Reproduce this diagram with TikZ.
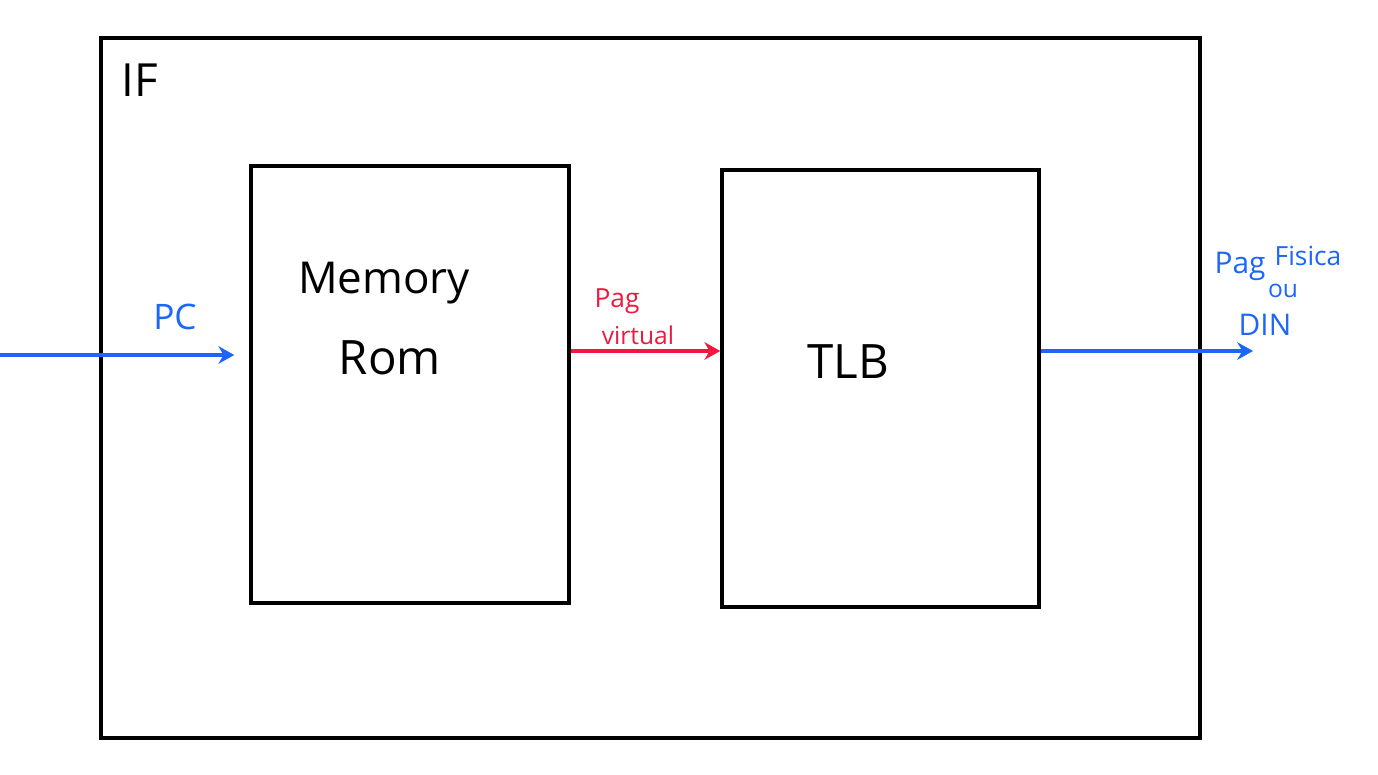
\documentclass[tikz,border=0pt]{standalone}
\usepackage{fontspec}
\setmainfont{Open Sans}
\usepackage{tikz}
\usetikzlibrary{arrows.meta}
\definecolor{penblue}{RGB}{28,102,250}
\definecolor{penred}{RGB}{240,24,64}
\tikzset{
  blok/.style={draw=black, line width=2pt, inner sep=0pt},
  pen/.style={line width=1.9pt, -{Stealth[length=9pt,width=10pt]}},
}

\begin{document}
\begin{tikzpicture}[x=0.02cm, y=-0.02cm]
        \useasboundingbox (0,0) rectangle (1378,774);
        \node[blok, minimum width=1099*0.02cm, minimum height=700*0.02cm] (ifbox) at (650.5,388) {};
        \node[blok, minimum width=318*0.02cm, minimum height=437*0.02cm] (rom) at (410,384.5) {};
        \node[blok, minimum width=317*0.02cm, minimum height=437*0.02cm] (tlb) at (880.5,388.5) {};
        \node[font=\fontsize{26}{28}\selectfont] (iflbl) at (140,80) {IF};
        \node[font=\fontsize{25}{27}\selectfont] (memlbl) at (384,283) {Memory};
        \node[font=\fontsize{27}{29}\selectfont] (romlbl) at (390,358) {Rom};
        \node[font=\fontsize{27}{29}\selectfont] (tlblbl) at (848,362) {TLB};
        \node[font=\fontsize{20}{22}\selectfont, text=penblue] (pclbl) at (175,317) {PC};
        \node[font=\fontsize{15}{17}\selectfont, text=penred] (pag1) at (617,301) {Pag};
        \node[font=\fontsize{14}{16}\selectfont, text=penred] (virt) at (638,335) {virtual};
        \node[font=\fontsize{17}{19}\selectfont, text=penblue] (pag2) at (1240,266) {Pag};
        \node[font=\fontsize{15}{17}\selectfont, text=penblue] (fis) at (1308,256) {Fisica};
        \node[font=\fontsize{14}{16}\selectfont, text=penblue] (oulbl) at (1283,291) {ou};
        \node[font=\fontsize{17}{19}\selectfont, text=penblue] (din) at (1265,325) {DIN};
        \coordinate (pcin) at (0,355);
        \coordinate (out) at (1253,351);
        \draw[pen, penblue, shorten >=15*0.02cm] (pcin) -- (pcin -| rom.west);
        \draw[pen, penred] ([yshift=33.5*0.02cm]rom.east) -- ([yshift=33.5*0.02cm]rom.east -| tlb.west);
        \draw[pen, penblue] ([yshift=37.5*0.02cm]tlb.east) -- (out);
      \end{tikzpicture}
\end{document}
